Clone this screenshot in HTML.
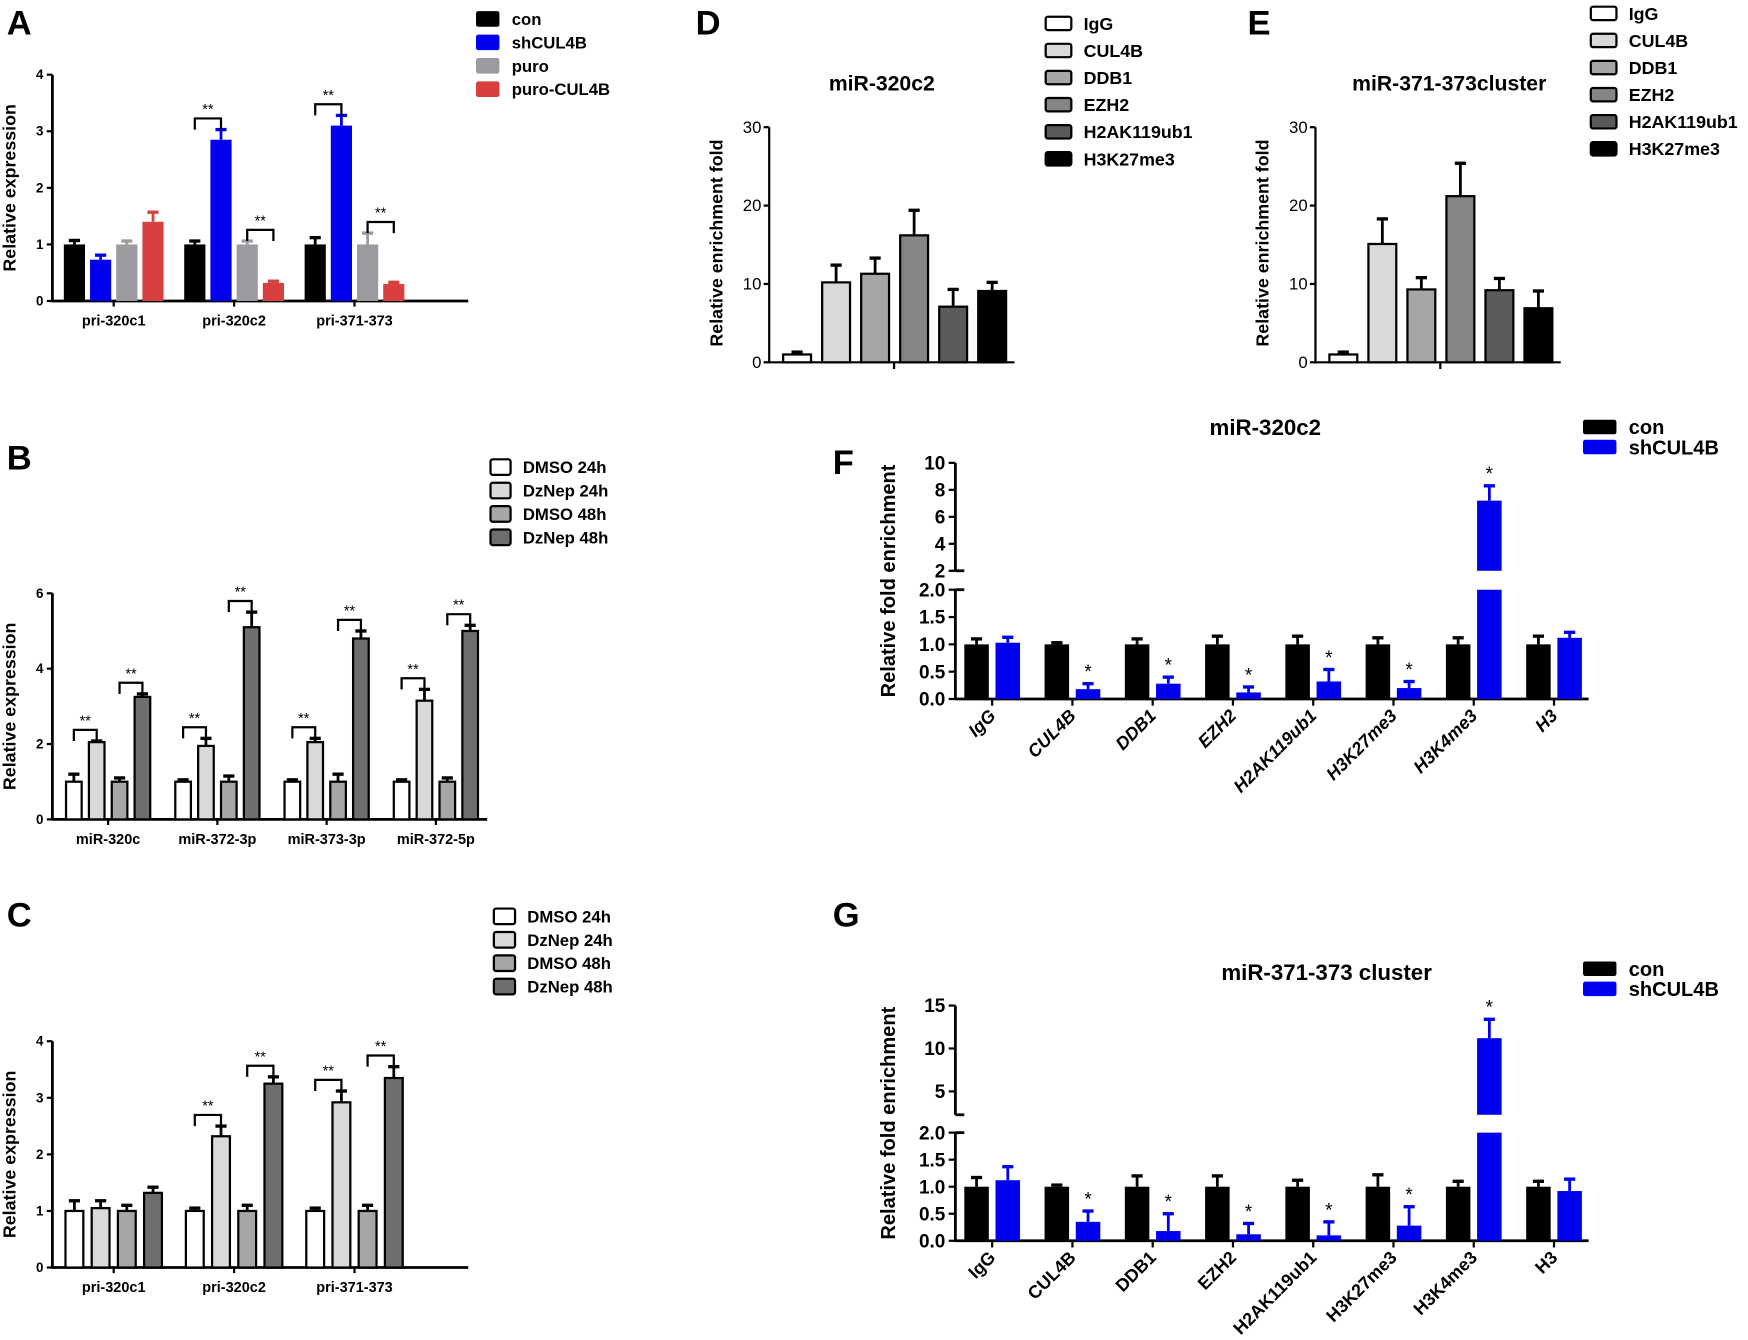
<!DOCTYPE html>
<html><head><meta charset="utf-8">
<style>
html,body{margin:0;padding:0;background:#fff;}
svg{display:block;}
text{font-family:"Liberation Sans Narrow","Liberation Sans",sans-serif;fill:#000;}
</style></head>
<body>
<svg id="fig" width="1748" height="1340" viewBox="0 0 1568 1202" xmlns="http://www.w3.org/2000/svg"></svg>
<script>
// ---------- DATA ----------
const aCategories = ["pri-320c1","pri-320c2","pri-371-373"];
const aSeries = ["con","shCUL4B","puro","puro-CUL4B"];
const aValues = [[1.0,0.73,1.0,1.4],[1.0,2.85,1.0,0.32],[1.0,3.1,1.0,0.3]];
const aErrors = [[0.07,0.08,0.06,0.17],[0.06,0.18,0.06,0.03],[0.12,0.18,0.2,0.03]];
const aTicks = [0,1,2,3,4];

const bCategories = ["miR-320c","miR-372-3p","miR-373-3p","miR-372-5p"];
const bSeries = ["DMSO 24h","DzNep 24h","DMSO 48h","DzNep 48h"];
const bValues = [[1.0,2.05,1.0,3.25],[1.0,1.95,1.0,5.1],[1.0,2.05,1.0,4.8],[1.0,3.15,1.0,5.0]];
const bErrors = [[0.2,0.03,0.1,0.08],[0.05,0.2,0.15,0.4],[0.05,0.1,0.2,0.2],[0.05,0.3,0.1,0.15]];
const bTicks = [0,2,4,6];

const cCategories = ["pri-320c1","pri-320c2","pri-371-373"];
const cSeries = ["DMSO 24h","DzNep 24h","DMSO 48h","DzNep 48h"];
const cValues = [[1.0,1.05,1.0,1.32],[1.0,2.32,1.0,3.25],[1.0,2.92,1.0,3.35]];
const cErrors = [[0.18,0.13,0.1,0.1],[0.05,0.18,0.1,0.12],[0.05,0.2,0.1,0.2]];
const cTicks = [0,1,2,3,4];

const dSeries = ["IgG","CUL4B","DDB1","EZH2","H2AK119ub1","H3K27me3"];
const dValues = [1.0,10.2,11.3,16.2,7.1,9.1];
const dErrors = [0.3,2.2,2.0,3.2,2.2,1.1];
const eValues = [1.0,15.1,9.3,21.2,9.2,6.9];
const eErrors = [0.3,3.2,1.5,4.2,1.5,2.2];
const deTicks = [0,10,20,30];

const fgCategories = ["IgG","CUL4B","DDB1","EZH2","H2AK119ub1","H3K27me3","H3K4me3","H3"];
const fCon = [1,1,1,1,1,1,1,1];
const fConErr = [0.1,0.03,0.1,0.15,0.15,0.12,0.12,0.15];
const fSh = [1.03,0.18,0.28,0.12,0.32,0.2,7.2,1.12];
const fShErr = [0.1,0.1,0.12,0.1,0.22,0.12,1.1,0.1];
const fLowTicks = ["0.0","0.5","1.0","1.5","2.0"];
const fHighTicks = [2,4,6,8,10];
const gCon = [1,1,1,1,1,1,1,1];
const gConErr = [0.17,0.03,0.2,0.2,0.12,0.22,0.1,0.1];
const gSh = [1.12,0.35,0.18,0.12,0.1,0.28,11.2,0.92];
const gShErr = [0.25,0.2,0.32,0.2,0.25,0.35,2.2,0.22];
const gLowTicks = ["0.0","0.5","1.0","1.5","2.0"];
const gHighTicks = [5,10,15];

// ---------- HELPERS ----------
const NS="http://www.w3.org/2000/svg";
const svg=document.getElementById('fig');
function mk(tag,attrs,parent,txt){const e=document.createElementNS(NS,tag);for(const k in attrs)e.setAttribute(k,attrs[k]);if(txt!==undefined)e.textContent=txt;(parent||svg).appendChild(e);return e;}
function grp(name){const g=mk('g',{});


return g;}
function line(p,x1,y1,x2,y2,w,c){return mk('line',{x1,y1,x2,y2,stroke:c||'#000','stroke-width':w||2},p);}
function txt(p,x,y,s,size,anchor,extra){const a=Object.assign({x,y,'font-size':size,'text-anchor':anchor||'middle','font-weight':'bold'},extra||{});return mk('text',a,p,s);}
function bar(p,name,cx,w,y0,y1,fill,stroke){const r=mk('rect',{x:cx-w/2,y:Math.min(y0,y1),width:w,height:Math.abs(y0-y1),fill,stroke:stroke||'none','stroke-width':stroke?2:0},p);


return r;}
function err(p,cx,yTop,yErr,c,cap){line(p,cx,yTop,cx,yErr,2.5,c);line(p,cx-(cap||5),yErr,cx+(cap||5),yErr,3,c);}
function bracket(p,x1,x2,y,label){const path=mk('path',{d:`M${x1},${y+10} V${y} H${x2} V${y+10}`,fill:'none',stroke:'#000','stroke-width':2},p);txt(p,(x1+x2)/2,y-4,label,13,'middle',{'font-weight':'normal'});}
function legendEntry(p,name,x,y,w,h,fill,stroke,label,size){const g=mk('g',{},p);


mk('rect',{x,y:y-h/2,width:w,height:h,rx:2,fill,stroke:stroke||'none','stroke-width':stroke?2:0},g);
txt(g,x+w+11,y+size*0.36,label,size,'start');}
function panelLabel(s,x,y){const t=txt(svg,x,y,s,31,'start',{'font-family':'"Liberation Sans",sans-serif'});

}
function ylabel(p,x,y,s,size){const t=txt(p,x,y,s,size,'middle',{transform:`rotate(-90 ${x} ${y})`,'font-family':'"Liberation Sans",sans-serif'});

}

// ---------- GROUPED PANELS A/B/C ----------
function grouped(opt){
  const g=grp(opt.name);
  const y=v=>opt.y0-(v-opt.vmin)*opt.unit;
  line(g,opt.ax,opt.y0+1,opt.ax,y(opt.ticks[opt.ticks.length-1]),2.5);
  line(g,opt.ax,opt.y0,opt.axEnd,opt.y0,2.5);
  opt.ticks.forEach(t=>{line(g,opt.ax-5,y(t),opt.ax,y(t),2);txt(g,opt.ax-8,y(t)+4,String(t),12,'end');});
  opt.cats.forEach((c,i)=>{
    const cx=opt.c0+i*opt.cstep;
    line(g,cx,opt.y0,cx,opt.y0+5,2);
    const t=txt(g,cx,opt.y0+22,c,13,'middle');
    
    
    opt.vals[i].forEach((v,j)=>{
      const bx=cx+(j-1.5)*opt.bstep;
      const col=opt.colors[j];
      const yt=y(v), ye=y(v+opt.errs[i][j]);
      err(g,bx,yt,ye,opt.stroke?'#000':col);
      bar(g,'bar-'+opt.series[j]+'-'+c,bx,opt.bw,opt.y0,yt,col,opt.stroke?'#000':null);
    });
    if(opt.sig[i]){
      const v=opt.vals[i],e=opt.errs[i];
      const x1=cx-1.5*opt.bstep,x2=cx-0.5*opt.bstep;
      bracket(g,x1,x2,y(Math.max(v[0]+e[0],v[1]+e[1]))-opt.bgap,'**');
      const x3=cx+0.5*opt.bstep,x4=cx+1.5*opt.bstep;
      bracket(g,x3,x4,y(Math.max(v[2]+e[2],v[3]+e[3]))-opt.bgap,'**');
    }
  });
  ylabel(g,opt.ax-33,(opt.y0+y(opt.ticks[opt.ticks.length-1]))/2,opt.ylab,16);
  opt.series.forEach((s,j)=>legendEntry(g,s,opt.lx,opt.ly+j*opt.lstep,opt.lw,14,opt.colors[j],opt.stroke?'#000':null,s,15));
}
panelLabel('A',6,31);
grouped({name:'panel-a',ax:47,axEnd:420,y0:270,vmin:0,unit:50.75,ticks:aTicks,cats:aCategories,series:aSeries,vals:aValues,errs:aErrors,
  c0:102,cstep:108,bstep:23.5,bw:19,colors:['#000','#0000ee','#9b9b9f','#d84040'],stroke:false,sig:[false,true,true],bgap:10,
  ylab:'Relative expression',lx:427,ly:17,lstep:21,lw:21});
panelLabel('B',6,421);
grouped({name:'panel-b',ax:47,axEnd:437,y0:735,vmin:0,unit:33.8,ticks:bTicks,cats:bCategories,series:bSeries,vals:bValues,errs:bErrors,
  c0:97,cstep:98,bstep:20.5,bw:14,colors:['#fff','#d9d9d9','#a6a6a6','#6e6e6e'],stroke:true,sig:[true,true,true,true],bgap:10,
  ylab:'Relative expression',lx:440,ly:419,lstep:21,lw:18});
panelLabel('C',6,831);
grouped({name:'panel-c',ax:47,axEnd:420,y0:1137,vmin:0,unit:50.75,ticks:cTicks,cats:cCategories,series:cSeries,vals:cValues,errs:cErrors,
  c0:102,cstep:108,bstep:23.5,bw:16,colors:['#fff','#d9d9d9','#a6a6a6','#6e6e6e'],stroke:true,sig:[false,true,true],bgap:10,
  ylab:'Relative expression',lx:443,ly:822,lstep:21,lw:19});

// ---------- PANELS D/E ----------
const deColors=['#fff','#d9d9d9','#a6a6a6','#858585','#5a5a5a','#000'];
function single(opt){
  const g=grp(opt.name);
  const y=v=>opt.y0-v*opt.unit;
  line(g,opt.ax,opt.y0+1,opt.ax,y(30),2);
  line(g,opt.ax,opt.y0,opt.ax+220,opt.y0,2);
  line(g,opt.ax+112,opt.y0,opt.ax+112,opt.y0+6,2);
  deTicks.forEach(t=>{line(g,opt.ax-5,y(t),opt.ax,y(t),2);txt(g,opt.ax-7,y(t)+5,String(t),15,'end',{'font-weight':'normal'});});
  opt.vals.forEach((v,i)=>{
    const bx=opt.ax+25+i*35;
    err(g,bx,y(v),y(v+opt.errs[i]),'#000',5);
    bar(g,'bar-'+dSeries[i],bx,25,opt.y0,y(v),deColors[i],'#000');
  });
  const t=txt(g,opt.tx,81,opt.title,19,'middle');
  
  
  ylabel(g,opt.ax-42,218,'Relative enrichment fold',16);
  dSeries.forEach((s,j)=>legendEntry(g,s,opt.lx,opt.ly+j*24.3,23,12,deColors[j],'#000',s,16));
}
panelLabel('D',624,31);
single({name:'panel-d',ax:690,y0:325,unit:7.03,vals:dValues,errs:dErrors,title:'miR-320c2',tx:791,lx:938,ly:21});
panelLabel('E',1119,31);
single({name:'panel-e',ax:1180,y0:325,unit:7.03,vals:eValues,errs:eErrors,title:'miR-371-373cluster',tx:1300,lx:1427,ly:12});

// ---------- PANELS F/G (broken axis) ----------
function broken(opt){
  const g=grp(opt.name);
  const yl=v=>opt.y0-v*opt.lowUnit;
  const yh=v=>opt.hRef-(v-opt.hRefV)*opt.hiUnit;
  const yv=v=>v<=2?yl(v):yh(v);
  const ax=857;
  line(g,ax,opt.y0+1,ax,yl(2),2.5);
  line(g,ax,opt.hBottom,ax,yh(opt.hiTicks[opt.hiTicks.length-1]),2.5);
  line(g,ax,yl(2),ax+8,yl(2),2.5);line(g,ax,opt.hBottom,ax+8,opt.hBottom,2.5);
  line(g,ax,opt.y0,1425,opt.y0,2.5);
  opt.lowTicks.forEach(t=>{const yy=yl(parseFloat(t));line(g,ax-6,yy,ax,yy,2);txt(g,ax-9,yy+6,t,17,'end');});
  opt.hiTicks.forEach(t=>{const yy=yh(t);line(g,ax-6,yy,ax,yy,2);txt(g,ax-9,yy+6,String(t),17,'end');});
  fgCategories.forEach((c,i)=>{
    const cx=890+i*72;
    line(g,cx,opt.y0,cx,opt.y0+6,2);
    const t=txt(g,cx+4,opt.y0+16,c,16,'end',{transform:`rotate(-45 ${cx+4} ${opt.y0+16})`,'font-style':opt.italic?'italic':'normal','font-family':'"Liberation Sans",sans-serif'});
    
    
    // con
    const cv=opt.con[i];
    err(g,cx-14,yv(cv),yv(cv+opt.conErr[i]),'#000',5);
    bar(g,'bar-con-'+c,cx-14,22,opt.y0,yv(cv),'#000');
    // sh
    const sv=opt.sh[i], bx=cx+14;
    err(g,bx,yv(sv),yv(sv+opt.shErr[i]),'#0000ee',5);
    if(sv<=2){bar(g,'bar-shCUL4B-'+c,bx,22,opt.y0,yl(sv),'#0000ee');}
    else{bar(g,'bar-shCUL4B-'+c,bx,22,opt.y0,yl(2),'#0000ee');bar(g,'bar-shCUL4B-upper-'+c,bx,22,opt.hBottom,yh(sv),'#0000ee');}
    if(i>=1&&i<=6){txt(g,bx,yv(sv+opt.shErr[i])-5,'*',17,'middle',{'font-weight':'normal'});}
  });
  const t=txt(g,opt.tx,opt.ty,opt.title,20,'middle',{'font-family':'"Liberation Sans",sans-serif'});
  
  
  ylabel(g,803,(opt.y0+yh(opt.hiTicks[opt.hiTicks.length-1]))/2,'Relative fold enrichment',18);
  legendEntry(g,'con',1420,opt.ly,30,13,'#000',null,'con',18);
  legendEntry(g,'shCUL4B',1420,opt.ly+18,30,13,'#0000ee',null,'shCUL4B',18);
}
panelLabel('F',747,425);
broken({name:'panel-f',y0:627,lowUnit:49,hRef:512,hRefV:2,hiUnit:12.1,hBottom:512,lowTicks:fLowTicks,hiTicks:fHighTicks,
  con:fCon,conErr:fConErr,sh:fSh,shErr:fShErr,title:'miR-320c2',tx:1135,ty:390,ly:383,italic:true});
panelLabel('G',747,831);
broken({name:'panel-g',y0:1113,lowUnit:48.5,hRef:979,hRefV:5,hiUnit:7.7,hBottom:1000,lowTicks:gLowTicks,hiTicks:gHighTicks,
  con:gCon,conErr:gConErr,sh:gSh,shErr:gShErr,title:'miR-371-373 cluster',tx:1190,ty:879,ly:869,italic:false});
</script>
</body></html>
